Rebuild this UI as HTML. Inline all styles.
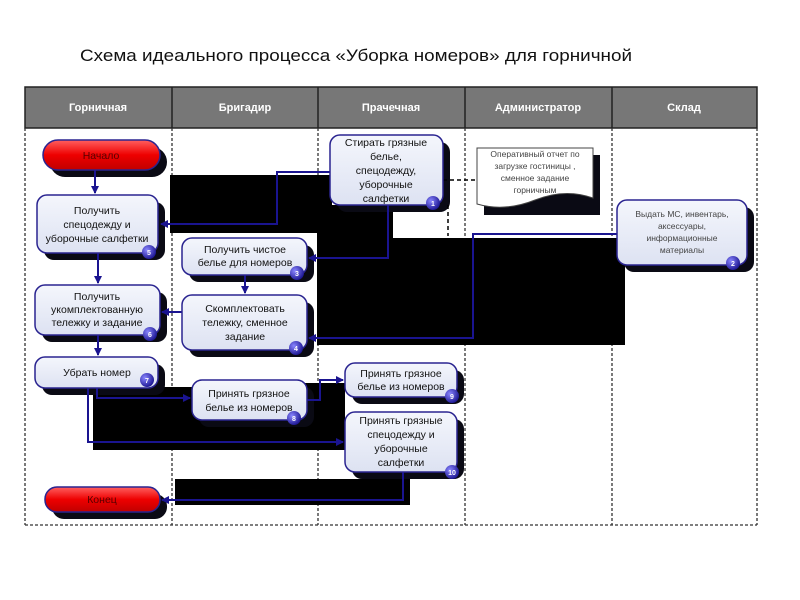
<!DOCTYPE html>
<html><head><meta charset="utf-8"><style>
body{margin:0;background:#fff;}
svg{display:block;font-family:"Liberation Sans",sans-serif;}
</style></head><body>
<svg width="800" height="600" viewBox="0 0 800 600" xmlns="http://www.w3.org/2000/svg">
<defs>
<linearGradient id="bx" x1="0" y1="0" x2="0" y2="1"><stop offset="0" stop-color="#f4f6fc"/><stop offset="1" stop-color="#dde2f2"/></linearGradient>
<linearGradient id="rd" x1="0" y1="0" x2="0" y2="1"><stop offset="0" stop-color="#ff6060"/><stop offset="0.5" stop-color="#ee0000"/><stop offset="1" stop-color="#c00000"/></linearGradient>
<radialGradient id="bd" cx="0.35" cy="0.35" r="0.7"><stop offset="0" stop-color="#8a86ff"/><stop offset="1" stop-color="#1a1490"/></radialGradient>
<marker id="ar" markerWidth="8" markerHeight="8" refX="7" refY="4" orient="auto" markerUnits="userSpaceOnUse"><path d="M0,0 L8,4 L0,8 z" fill="#1a1490"/></marker>
</defs>
<text x="80" y="61" font-size="17" fill="#111" textLength="552" lengthAdjust="spacingAndGlyphs">Схема идеального процесса «Уборка номеров» для горничной</text>
<rect x="25" y="87" width="732" height="41" fill="#777" stroke="#222" stroke-width="1.5"/>
<g stroke="#222" stroke-width="1.5"><line x1="172" y1="87" x2="172" y2="128"/><line x1="318" y1="87" x2="318" y2="128"/><line x1="465" y1="87" x2="465" y2="128"/><line x1="612" y1="87" x2="612" y2="128"/></g>
<g fill="#fff" font-size="11" font-weight="bold" text-anchor="middle">
<text x="98" y="111">Горничная</text><text x="245" y="111">Бригадир</text><text x="391" y="111">Прачечная</text><text x="538" y="111">Администратор</text><text x="684" y="111">Склад</text></g>
<g stroke="#333" stroke-width="1.3" stroke-dasharray="3,2" fill="none">
<line x1="25" y1="128" x2="25" y2="525"/><line x1="172" y1="128" x2="172" y2="525"/><line x1="318" y1="128" x2="318" y2="525"/><line x1="465" y1="128" x2="465" y2="525"/><line x1="612" y1="128" x2="612" y2="525"/><line x1="757" y1="128" x2="757" y2="525"/><line x1="25" y1="525" x2="757" y2="525"/>
</g>
<g fill="#000">
<rect x="170" y="175" width="162" height="58"/>
<rect x="317" y="205" width="76" height="140"/>
<rect x="393" y="238" width="232" height="107"/>
<rect x="93" y="387" width="252" height="63"/>
<rect x="303" y="383" width="42" height="67"/>
<rect x="175" y="479" width="235" height="26"/>
</g>
<g fill="#0a0a14">
<rect x="50" y="147" width="117" height="30" rx="15"/>
<rect x="44" y="202" width="121" height="58" rx="10"/>
<rect x="189" y="245" width="125" height="37" rx="10"/>
<rect x="189" y="302" width="125" height="55" rx="10"/>
<rect x="337" y="142" width="113" height="70" rx="10"/>
<rect x="484" y="155" width="116" height="60"/>
<rect x="624" y="207" width="130" height="65" rx="10"/>
<rect x="42" y="292" width="125" height="50" rx="10"/>
<rect x="42" y="364" width="123" height="31" rx="10"/>
<rect x="199" y="387" width="115" height="40" rx="10"/>
<rect x="352" y="370" width="112" height="34" rx="10"/>
<rect x="352" y="419" width="112" height="60" rx="10"/>
<rect x="52" y="494" width="115" height="25" rx="12"/>
</g>
<g stroke="#1a1490" stroke-width="2" fill="none">
<path d="M95 170 V193" marker-end="url(#ar)"/>
<path d="M332 172 H277 V224 H161" marker-end="url(#ar)"/>
<path d="M388 205 V258 H309" marker-end="url(#ar)"/>
<path d="M245 275 V293" marker-end="url(#ar)"/>
<path d="M617 234 H473 V338 H309" marker-end="url(#ar)"/>
<path d="M182 312 H162" marker-end="url(#ar)"/>
<path d="M98 253 V283" marker-end="url(#ar)"/>
<path d="M98 335 V355" marker-end="url(#ar)"/>
<path d="M97 388 V398 H190" marker-end="url(#ar)"/>
<path d="M88 388 V442 H343" marker-end="url(#ar)"/>
<path d="M307 400 H320 V380 H343" marker-end="url(#ar)"/>
<path d="M403 472 V500 H162" marker-end="url(#ar)"/>
</g>
<g stroke="#000" stroke-width="1.5" stroke-dasharray="4,3" fill="none"><path d="M443 180 H477"/><path d="M448 205 V236"/></g>
<g stroke="#2a2490" stroke-width="1.5" fill="url(#bx)">
<rect x="37" y="195" width="121" height="58" rx="10"/>
<rect x="182" y="238" width="125" height="37" rx="10"/>
<rect x="182" y="295" width="125" height="55" rx="10"/>
<rect x="330" y="135" width="113" height="70" rx="10"/>
<rect x="617" y="200" width="130" height="65" rx="10"/>
<rect x="35" y="285" width="125" height="50" rx="10"/>
<rect x="35" y="357" width="123" height="31" rx="10"/>
<rect x="192" y="380" width="115" height="40" rx="10"/>
<rect x="345" y="363" width="112" height="34" rx="10"/>
<rect x="345" y="412" width="112" height="60" rx="10"/>
</g>
<path d="M477 148 H593 V198 Q565 188 535 200 Q505 212 477 204 Z" fill="#fff" stroke="#444" stroke-width="1"/>
<rect x="43" y="140" width="117" height="30" rx="15" fill="url(#rd)" stroke="#2a2490" stroke-width="1.5"/>
<rect x="45" y="487" width="115" height="25" rx="12" fill="url(#rd)" stroke="#2a2490" stroke-width="1.5"/>
<g fill="url(#bd)">
<circle cx="433" cy="203" r="7"/><circle cx="733" cy="263" r="7"/><circle cx="297" cy="273" r="7"/><circle cx="296" cy="348" r="7"/><circle cx="149" cy="252" r="7"/><circle cx="150" cy="334" r="7"/><circle cx="147" cy="380" r="7"/><circle cx="294" cy="418" r="7"/><circle cx="452" cy="396" r="7"/><circle cx="452" cy="472" r="7"/>
</g>
<g fill="#fff" font-size="7" font-weight="bold" text-anchor="middle">
<text x="433" y="206">1</text><text x="733" y="266">2</text><text x="297" y="276">3</text><text x="296" y="351">4</text><text x="149" y="255">5</text><text x="150" y="337">6</text><text x="147" y="383">7</text><text x="294" y="421">8</text><text x="452" y="399">9</text><text x="452" y="475">10</text>
</g>
<g font-size="10.5" fill="#111" text-anchor="middle">
<text x="101" y="159" fill="#500">Начало</text>
<text x="102" y="503" fill="#500">Конец</text>
<text x="97" y="214">Получить</text><text x="97" y="228">спецодежду и</text><text x="97" y="242">уборочные салфетки</text>
<text x="245" y="253">Получить чистое</text><text x="245" y="266">белье для номеров</text>
<text x="245" y="312">Скомплектовать</text><text x="245" y="326">тележку, сменное</text><text x="245" y="340">задание</text>
<text x="386" y="146">Стирать грязные</text><text x="386" y="160">белье,</text><text x="386" y="174">спецодежду,</text><text x="386" y="188">уборочные</text><text x="386" y="202">салфетки</text>
<text x="97" y="300">Получить</text><text x="97" y="313">укомплектованную</text><text x="97" y="326">тележку и задание</text>
<text x="97" y="376">Убрать номер</text>
<text x="249" y="397">Принять грязное</text><text x="249" y="411">белье из номеров</text>
<text x="401" y="377">Принять грязное</text><text x="401" y="390">белье из номеров</text>
<text x="401" y="424">Принять грязные</text><text x="401" y="438">спецодежду и</text><text x="401" y="452">уборочные</text><text x="401" y="466">салфетки</text>
</g>
<g font-size="8.5" fill="#444" text-anchor="middle">
<text x="535" y="157">Оперативный отчет по</text><text x="535" y="169">загрузке гостиницы ,</text><text x="535" y="181">сменное задание</text><text x="535" y="193">горничным</text>
<text x="682" y="217">Выдать МС, инвентарь,</text><text x="682" y="229">аксессуары,</text><text x="682" y="241">информационные</text><text x="682" y="253">материалы</text>
</g>
</svg>
</body></html>
